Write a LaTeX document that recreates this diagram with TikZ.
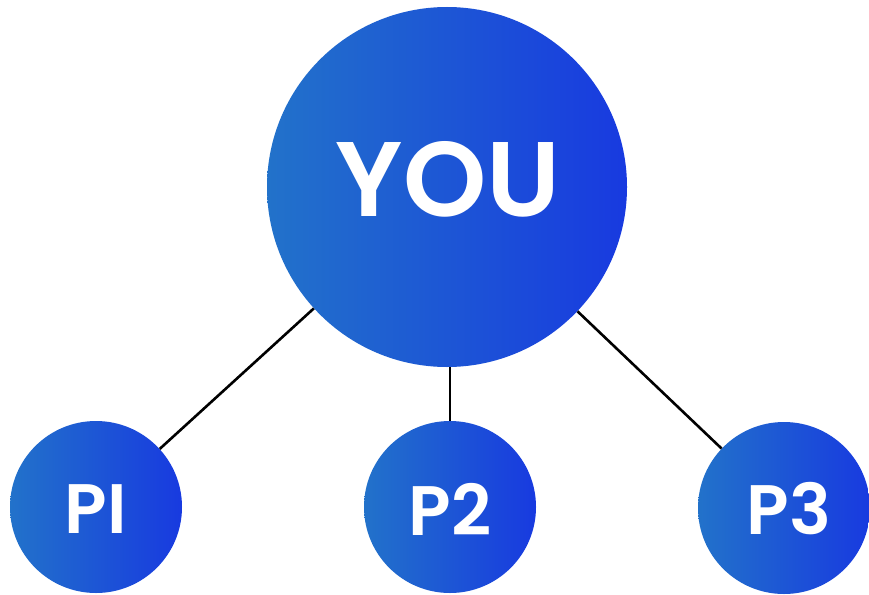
\documentclass[tikz,border=0pt]{standalone}
\usepackage{fontspec}
\setmainfont{Poppins}
\newfontfamily\popsemi{Poppins SemiBold}
\definecolor{blueL}{RGB}{34,114,202}
\definecolor{blueR}{RGB}{24,58,224}
\begin{document}
\begin{tikzpicture}[x=1pt,y=-1pt,
  bub/.style={circle, inner sep=0pt, draw=none, left color=blueL, right color=blueR},
  lbl/.style={text=white, inner sep=0pt},
  link/.style={draw=black, line width=2.6pt}]
\useasboundingbox (0,0) rectangle (869,594);
\node[bub, minimum size=360pt] (you) at (447,187) {};
\node[bub, minimum size=172pt] (p1) at (96,507) {};
\node[bub, minimum size=172pt] (p2) at (450,507) {};
\node[bub, minimum size=172pt] (p3) at (784,508) {};
\draw[link] (you) -- (p1);
\draw[link] (you.south -| p2) -- (p2);
\draw[link] (you) -- (p3);
\node[lbl, font=\popsemi\fontsize{106}{106}\selectfont] (youtxt) at (448,179) {YOU};
\node[lbl, font=\popsemi\fontsize{70}{70}\selectfont] (p1txt) at (96,509) {PI};
\node[lbl, font=\popsemi\fontsize{70}{70}\selectfont] (p2txt) at (450,509) {P2};
\node[lbl, font=\popsemi\fontsize{70}{70}\selectfont] (p3txt) at (789,509) {P3};
\end{tikzpicture}
\end{document}
